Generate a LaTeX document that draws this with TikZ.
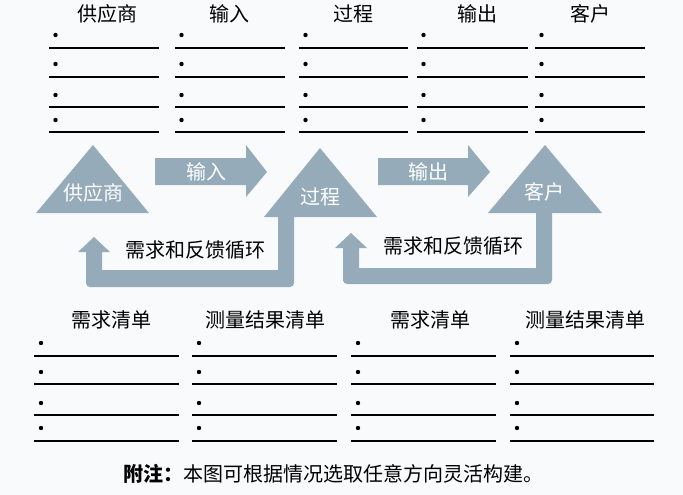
\documentclass[tikz,border=0pt]{standalone}
\usepackage{fontspec}
\setmainfont{Noto Sans CJK SC}
\definecolor{bgc}{RGB}{249,250,252}
\definecolor{shapec}{RGB}{149,171,186}
\begin{document}
\begin{tikzpicture}[x=1pt,y=-1pt,
  lab/.style={font=\fontsize{20}{21}\selectfont, inner sep=0pt},
  wlab/.style={lab,text=white},
  rulel/.style={line width=1.8pt},
  bdot/.style={circle,fill=black,inner sep=0pt,minimum size=4.4pt},
  shp/.style={fill=shapec}]
\fill[bgc] (0,0) rectangle (683,495);
\useasboundingbox (0,0) rectangle (683,495);

% top headers
\node[lab] (h1) at (107,14) {供应商};
\node[lab] (h2) at (229,14) {输入};
\node[lab] (h3) at (353,14) {过程};
\node[lab] (h4) at (477,14) {输出};
\node[lab] (h5) at (590,14) {客户};

% top lists
\foreach \xa/\xb in {49/159,175/285,299/408,417/528,535/645} {
  \foreach \ly/\by in {48/35,77/64,107/95,132/120} {
    \draw[rulel] (\xa,\ly) -- (\xb,\ly);
    \node[bdot] at (\xa+6.5,\by) {};
  }
}

% triangles
\fill[shp] (93,145) -- (149,213) -- (36,213) -- cycle;
\node[wlab] (t1) at (93,193) {供应商};
\fill[shp] (320,148) -- (377,217) -- (264,217) -- cycle;
\node[wlab] (t2) at (320,197) {过程};
\fill[shp] (545,145) -- (602,213) -- (488,213) -- cycle;
\node[wlab] (t3) at (544,192) {客户};

% block arrows
\fill[shp] (155,158) -- (246,158) -- (246,145) -- (267,172) -- (246,197) -- (246,185) -- (155,185) -- cycle;
\node[wlab] (a1) at (206,172) {输入};
\fill[shp] (378,158) -- (468,158) -- (468,145) -- (490,172) -- (468,197) -- (468,185) -- (378,185) -- cycle;
\node[wlab] (a2) at (428,172) {输出};

% feedback loops
\fill[shp] (278,216) -- (294,216) [rounded corners=4pt] -- (294,287) -- (86,287) [sharp corners] -- (86,252) -- (78,252) -- (94,237) -- (110,252) -- (102,252) -- (102,270) -- (278,270) -- cycle;
\node[lab] (f1) at (195,250) {需求和反馈循环};
\fill[shp] (536,212) -- (552,212) [rounded corners=4pt] -- (552,284) -- (343,284) [sharp corners] -- (343,248) -- (335,248) -- (351,233) -- (367,248) -- (359,248) -- (359,268) -- (536,268) -- cycle;
\node[lab] (f2) at (453,246) {需求和反馈循环};

% bottom headers
\node[lab] (b1) at (111,320) {需求清单};
\node[lab] (b2) at (265,320) {测量结果清单};
\node[lab] (b3) at (430,320) {需求清单};
\node[lab] (b4) at (585,320) {测量结果清单};

% bottom lists
\foreach \xa/\xb in {34/179,192/337,351/496,510/654} {
  \foreach \ly/\by in {356/343,384/372,415/403,441/428} {
    \draw[rulel] (\xa,\ly) -- (\xb,\ly);
    \node[bdot] at (\xa+7,\by) {};
  }
}

% note
\node[lab] (note) at (333,474) {{\bfseries 附注：}本图可根据情况选取任意方向灵活构建。};
\end{tikzpicture}
\end{document}
